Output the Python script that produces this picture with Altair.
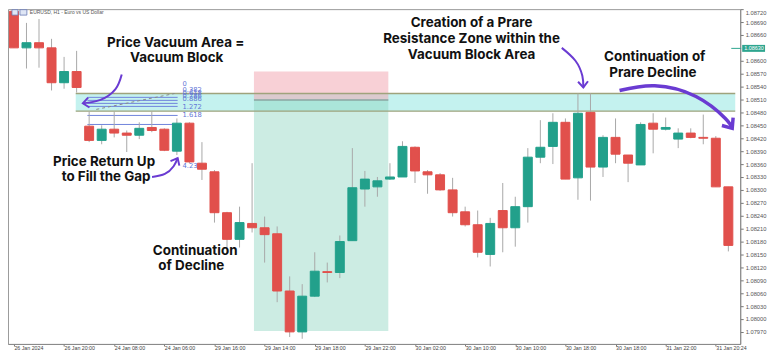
import altair as alt
import pandas as pd

# ---------------- candle data (EURUSD H1) ----------------
opens = [1.08715, 1.08630, 1.08642, 1.08630, 1.08549, 1.08575,
         1.08448, 1.08415, 1.08441, 1.08432, 1.08427, 1.08445, 1.08441, 1.08390, 1.08455, 1.08362, 1.08342, 1.08247, 1.08185, 1.08222,
         1.08212, 1.08198, 1.08065, 1.07970, 1.08053, 1.08110, 1.08108, 1.08182, 1.08302, 1.08307,
         1.08325, 1.08330, 1.08399, 1.08342, 1.08335, 1.08300, 1.08249, 1.08219, 1.08150, 1.08252,
         1.08212, 1.08261, 1.08376, 1.08401, 1.08457, 1.08328, 1.08480, 1.08353, 1.08422, 1.08381,
         1.08358, 1.08455, 1.08441, 1.08418, 1.08432, 1.08422, 1.08420, 1.08307]
closes = [1.08630, 1.08642, 1.08630, 1.08549, 1.08575, 1.08538,
          1.08415, 1.08441, 1.08432, 1.08427, 1.08443, 1.08438, 1.08392, 1.08455, 1.08365, 1.08348, 1.08247, 1.08185, 1.08224, 1.08212,
          1.08196, 1.08065, 1.07970, 1.08053, 1.08111, 1.08108, 1.08180, 1.08305, 1.08325, 1.08321,
          1.08330, 1.08401, 1.08344, 1.08335, 1.08300, 1.08247, 1.08219, 1.08155, 1.08222, 1.08212,
          1.08261, 1.08376, 1.08399, 1.08457, 1.08325, 1.08478, 1.08353, 1.08422, 1.08383, 1.08362,
          1.08452, 1.08441, 1.08445, 1.08432, 1.08422, 1.08420, 1.08307, 1.08171]
highs = [1.08727, 1.08688, 1.08697, 1.08651, 1.08609, 1.08623,
         1.08482, 1.08450, 1.08482, 1.08438, 1.08457, 1.08482, 1.08443, 1.08466, 1.08457, 1.08411, 1.08346, 1.08249, 1.08261, 1.08362,
         1.08238, 1.08215, 1.08099, 1.08081, 1.08155, 1.08131, 1.08194, 1.08397, 1.08344, 1.08330,
         1.08362, 1.08413, 1.08401, 1.08346, 1.08339, 1.08328, 1.08261, 1.08252, 1.08235, 1.08316,
         1.08284, 1.08397, 1.08462, 1.08478, 1.08466, 1.08524, 1.08524, 1.08427, 1.08466, 1.08381,
         1.08457, 1.08478, 1.08468, 1.08443, 1.08443, 1.08475, 1.08425, 1.08307]
lows = [1.08630, 1.08582, 1.08584, 1.08531, 1.08535, 1.08526,
        1.08411, 1.08406, 1.08422, 1.08388, 1.08418, 1.08434, 1.08390, 1.08381, 1.08362, 1.08323, 1.08224, 1.08150, 1.08166, 1.08201,
        1.08131, 1.08039, 1.07958, 1.07954, 1.08051, 1.08085, 1.08095, 1.08182, 1.08261, 1.08284,
        1.08323, 1.08330, 1.08316, 1.08291, 1.08298, 1.08238, 1.08215, 1.08143, 1.08122, 1.08155,
        1.08168, 1.08224, 1.08362, 1.08360, 1.08325, 1.08277, 1.08275, 1.08330, 1.08362, 1.08318,
        1.08358, 1.08385, 1.08438, 1.08397, 1.08420, 1.08406, 1.08307, 1.08157]

# ---------------- axes ----------------
x_tick_pos = [0, 4, 8, 12, 16, 20, 24, 28, 32, 36, 40, 44, 48, 52, 56]
x_tick_labels = ["26 Jan 2024", "26 Jan 20:00", "24 Jan 08:00", "24 Jan 06:00", "29 Jan 16:00",
                 "29 Jan 14:00", "29 Jan 18:00", "29 Jan 22:00", "30 Jan 02:00", "30 Jan 10:00",
                 "30 Jan 10:00", "30 Jan 18:00", "30 Jan 18:00", "31 Jan 22:00", "31 Jan 20:24"]
y_ticks = [1.07970, 1.08000, 1.08030, 1.08060, 1.08090, 1.08120, 1.08150, 1.08180, 1.08210,
           1.08240, 1.08270, 1.08300, 1.08330, 1.08360, 1.08390, 1.08420, 1.08450, 1.08480,
           1.08510, 1.08540, 1.08570, 1.08600, 1.08660, 1.08690, 1.08720]
x_domain = [-0.078, 57.55]
y_domain = [1.07942, 1.08720]
current_price = "1.08630"

# ---------------- zones / drawing objects ----------------
zone_x = [4.93, 57.55]
zone_y = [1.08483, 1.08524]
pos_x = [19.15, 29.87]
pink_y = [1.08509, 1.08575]
green_y = [1.07972, 1.08509]
fib_x = [5.86, 13.06]
fib_levels = [1.08515, 1.08508, 1.08501, 1.08494, 1.08473, 1.08452]
fib_label_text = ["0", "0.382", "0.618", "0.786", "0.886", "1.272", "1.618", "4.236"]
fib_label_y = [1.08547, 1.08531, 1.08524, 1.08517, 1.08510, 1.08492, 1.08475, 1.08355]
fib_label_x = 13.45
diag_x = [6.57, 12.82]
diag_y = [1.08487, 1.08524]

# ---------------- annotations ----------------
note_text = ["Price Vacuum Area =", "Vacuum Block", "Price Return Up", "to Fill the Gap",
             "Continuation", "of Decline", "Creation of a Prare", "Resistance Zone within the",
             "Vacuum Block Area", "Continuation of", "Prare Decline"]
note_x = [12.9, 12.98, 7.19, 7.35, 14.46, 14.15, 36.51, 36.51, 36.51, 51.13, 50.98]
note_y = [1.08642, 1.08607, 1.08365, 1.08330, 1.08157, 1.08122, 1.08688, 1.08651, 1.08614, 1.08609, 1.08572]

arrow_x = [[8.6, 8.1, 6.9, 5.5], [11.02, 12.04, 12.74, 13.06],
           [43.71, 44.8, 45.35, 45.43], [48.32, 51.13, 54.42, 56.76, 57.31]]
arrow_y = [[1.08568, 1.08534, 1.08509, 1.08501], [1.08330, 1.08337, 1.08355, 1.08374],
           [1.08630, 1.08600, 1.08565, 1.08538], [1.08531, 1.08542, 1.08517, 1.08466, 1.08443]]
arrow_angle = [172, 297, 87, 55]
arrow_width = [2, 2, 2, 3.5]
arrow_head = [100, 100, 100, 190]

# ---------------- build tables ----------------
candles = pd.DataFrame({"i": list(range(len(opens))), "open": opens, "close": closes,
                        "high": highs, "low": lows})
candles["dir"] = ["up" if c > o else "down" for o, c in zip(opens, closes)]

xs = alt.Scale(domain=x_domain, nice=False, zero=False)
ys = alt.Scale(domain=y_domain, nice=False, zero=False)

label_arr = "[" + ",".join("'" + s + "'" for s in x_tick_labels) + "]"
x_axis = alt.Axis(
    values=x_tick_pos, labelExpr=label_arr + "[round(datum.value/4)]", labelAlign="left",
    labelFontSize=5.3, labelColor="#444", labelFont="Liberation Sans", tickSize=2,
    tickColor="#777", domainColor="#888", labelPadding=0, grid=False, title=None,
    labelOverlap=False, labelBound=False, labelFlush=False)
y_axis = alt.Axis(
    orient="right", values=y_ticks, format=".5f", labelFontSize=5.8, labelColor="#555",
    labelFont="Liberation Sans", tickSize=3, tickColor="#777", domainColor="#888",
    labelPadding=2, grid=False, title=None, labelOverlap=False, labelBound=False,
    labelFlush=False,
    labelBaseline={"condition": {"test": "datum.value >= 1.08719", "value": "top"}, "value": "middle"})


def X(f):
    return alt.X(f, type="quantitative", scale=xs, axis=x_axis)


def Y(f):
    return alt.Y(f, type="quantitative", scale=ys, axis=y_axis)


zone_df = pd.DataFrame({"x": [zone_x[0]], "x2": [zone_x[1]], "y": [zone_y[0]], "y2": [zone_y[1]]})
zone_fill = alt.Chart(zone_df).mark_rect(color="#c4f2ef").encode(
    x=X("x"), x2="x2", y=Y("y"), y2="y2")
zone_lines_df = pd.DataFrame({"x": zone_x[:1] * 2, "x2": zone_x[1:] * 2, "y": zone_y})
zone_lines = alt.Chart(zone_lines_df).mark_rule(color="#9fa37c", strokeWidth=1.3).encode(
    x=X("x"), x2="x2", y=Y("y"))

green_df = pd.DataFrame({"x": [pos_x[0]], "x2": [pos_x[1]], "y": [green_y[0]], "y2": [green_y[1]]})
green_rect = alt.Chart(green_df).mark_rect(color="#8fd5c0", opacity=0.45).encode(
    x=X("x"), x2="x2", y=Y("y"), y2="y2")
pink_df = pd.DataFrame({"x": [pos_x[0]], "x2": [pos_x[1]], "y": [pink_y[0]], "y2": [pink_y[1]]})
pink_rect = alt.Chart(pink_df).mark_rect(color="#f2a2ad", opacity=0.5).encode(
    x=X("x"), x2="x2", y=Y("y"), y2="y2")
entry_df = pd.DataFrame({"x": [pos_x[0]], "x2": [pos_x[1]], "y": [pink_y[0]]})
entry_line = alt.Chart(entry_df).mark_rule(color="#8aa6a2", strokeWidth=1.5).encode(
    x=X("x"), x2="x2", y=Y("y"))

fib_df = pd.DataFrame({"x": [fib_x[0]] * len(fib_levels), "x2": [fib_x[1]] * len(fib_levels), "y": fib_levels})
fib_lines = alt.Chart(fib_df).mark_rule(color="#6f83dc", strokeWidth=1).encode(
    x=X("x"), x2="x2", y=Y("y"))
diag_df = pd.DataFrame({"x": diag_x, "y": diag_y})
diag = alt.Chart(diag_df).mark_line(color="#8a8a8a", strokeDash=[3, 3], strokeWidth=1).encode(
    x=X("x"), y=Y("y"))
fib_lab_df = pd.DataFrame({"x": [fib_label_x] * len(fib_label_text), "y": fib_label_y, "t": fib_label_text})
fib_labels = alt.Chart(fib_lab_df).mark_text(color="#6275d6", fontSize=6.8, align="left",
                                             baseline="middle", font="DejaVu Sans").encode(
    x=X("x"), y=Y("y"), text="t")

wicks = alt.Chart(candles).mark_rule(color="#a8a8a8", strokeWidth=1, clip=True).encode(
    x=X("i"), y=Y("low"), y2="high")
dir_scale = alt.Scale(domain=["up", "down"], range=["#22a08b", "#e1504c"])
bodies = alt.Chart(candles).mark_bar(size=9, strokeWidth=1, clip=True).encode(
    x=X("i"), y=Y("open"), y2="close",
    color=alt.Color("dir:N", scale=dir_scale, legend=None),
    stroke=alt.Stroke("dir:N", scale=dir_scale, legend=None))

notes_df = pd.DataFrame({"x": note_x, "y": note_y, "t": note_text})
notes = alt.Chart(notes_df).mark_text(font="Inter", fontWeight="bold", fontSize=13.5, color="#111",
                                      align="center", baseline="middle").encode(
    x=X("x"), y=Y("y"), text="t")

arr_rows = []
head_rows = []
for k, (ax, ay) in enumerate(zip(arrow_x, arrow_y)):
    for j, (a, b) in enumerate(zip(ax, ay)):
        arr_rows.append({"g": k, "o": j, "x": a, "y": b, "w": arrow_width[k]})
    head_rows.append({"g": k, "x": ax[-1], "y": ay[-1], "ang": arrow_angle[k],
                      "w": arrow_width[k], "s": arrow_head[k]})
arr_df = pd.DataFrame(arr_rows)
head_df = pd.DataFrame(head_rows)
arrows = alt.Chart(arr_df).mark_line(color="#6a3bd2", interpolate="natural").encode(
    x=X("x"), y=Y("y"), detail="g:N", order="o:Q",
    strokeWidth=alt.StrokeWidth("w:Q", scale=None, legend=None))
heads = alt.Chart(head_df).mark_point(shape="M-1.2,-1L0,0L-1.2,1", filled=False, color="#6a3bd2",
                                      strokeJoin="miter", opacity=1).encode(
    x=X("x"), y=Y("y"), angle=alt.Angle("ang:Q", scale=None),
    size=alt.Size("s:Q", scale=None, legend=None),
    strokeWidth=alt.StrokeWidth("w:Q", scale=None, legend=None))

header = alt.Chart(pd.DataFrame({"t": ["EURUSD, H1 - Euro vs US Dollar"]})).mark_text(
    fontSize=5, color="#555", align="left", baseline="middle", font="Liberation Sans").encode(
    x=alt.value(22), y=alt.value(3), text="t")
ic1 = alt.Chart(pd.DataFrame({"a": [0]})).mark_rect(stroke="#6a7bb5", fill="#dfe6f5", strokeWidth=0.8).encode(
    x=alt.value(4), x2=alt.value(10), y=alt.value(0.5), y2=alt.value(6))
ic2 = alt.Chart(pd.DataFrame({"a": [0]})).mark_rect(stroke="#6a7bb5", fill="#dfe6f5", strokeWidth=0.8).encode(
    x=alt.value(12), x2=alt.value(19), y=alt.value(0.5), y2=alt.value(6))

price_box = alt.Chart(pd.DataFrame({"a": [0]})).mark_rect(color="#2ea58f").encode(
    x=alt.value(739), x2=alt.value(762), y=alt.value(36), y2=alt.value(43))
price_tick = alt.Chart(pd.DataFrame({"a": [0]})).mark_rule(color="#2ea58f").encode(
    x=alt.value(728), x2=alt.value(738), y=alt.value(39.5))
price_txt = alt.Chart(pd.DataFrame({"t": [current_price]})).mark_text(
    fontSize=5.5, color="white", align="left", baseline="middle", font="Liberation Sans").encode(
    x=alt.value(741), y=alt.value(39.5), text="t")

chart = alt.layer(
    zone_fill, green_rect, pink_rect, zone_lines, entry_line,
    fib_lines, diag, fib_labels, wicks, bodies, notes, arrows, heads,
    header, ic1, ic2, price_tick, price_box, price_txt
).properties(
    width=737, height=337, background="white",
    autosize=alt.AutoSizeParams(type="none"),
    padding={"left": 0, "top": 0, "right": 32, "bottom": 12}
).configure_view(stroke="#9a9a9a", strokeWidth=1)

chart.save("out.html", embed_options={"renderer": "svg", "actions": False})
